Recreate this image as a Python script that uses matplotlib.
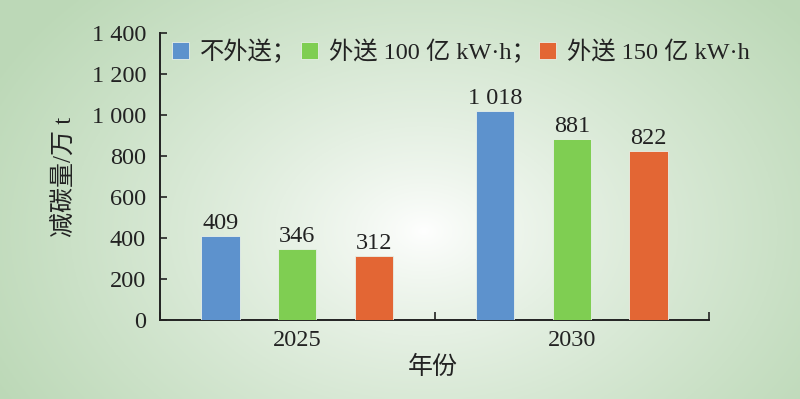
import numpy as np
import matplotlib
matplotlib.use("Agg")
import matplotlib.pyplot as plt

plt.rcParams['font.family'] = ['Liberation Serif', 'Noto Sans CJK SC', 'DejaVu Sans']

years = ['2025', '2030']
series_names = ['不外送；', '外送 100 亿 kW·h；', '外送 150 亿 kW·h']
values = {
    '不外送；': [409, 1018],
    '外送 100 亿 kW·h；': [346, 881],
    '外送 150 亿 kW·h': [312, 822],
}
value_labels = {
    '不外送；': ['409', '1 018'],
    '外送 100 亿 kW·h；': ['346', '881'],
    '外送 150 亿 kW·h': ['312', '822'],
}
colors = ['#5d92cd', '#7fce52', '#e36634']
yticks = [0, 200, 400, 600, 800, 1000, 1200, 1400]
ytick_labels = ['0', '200', '400', '600', '800', '1 000', '1 200', '1 400']

W, H = 800, 399
fig = plt.figure(figsize=(W / 100, H / 100), dpi=100)

# background radial gradient
bg = fig.add_axes([0, 0, 1, 1])
xx, yy = np.meshgrid(np.linspace(0, 1, 400), np.linspace(0, 1, 200))
cx, cy = 0.53, 0.58
d = np.sqrt(((xx - cx) / 0.60) ** 2 + ((yy - cy) / 0.85) ** 2)
t = np.clip(d, 0, 1) ** 0.8
edge = np.array([0.74, 0.85, 0.72])
center = np.array([1.0, 1.0, 1.0])
img = center[None, None, :] * (1 - t[..., None]) + edge[None, None, :] * t[..., None]
bg.imshow(img, extent=[0, 1, 0, 1], aspect='auto', origin='upper')
bg.axis('off')

ax = fig.add_axes([160 / W, 1 - 320 / H, (709 - 160) / W, (320 - 33) / H])
ax.set_facecolor('none')

x = np.arange(len(years))
width = 0.14
offsets = [-0.279, 0, 0.279]
for i, name in enumerate(series_names):
    bars = ax.bar(x + offsets[i], values[name], width, color=colors[i],
                  edgecolor='#e8f0e8', linewidth=0.6, label=name, zorder=3)
    for b, lab in zip(bars, value_labels[name]):
        ax.text(b.get_x() + b.get_width() / 2, b.get_height() + 10, lab,
                ha='center', va='bottom', fontsize=17.5, color='#222222')

ax.set_xlim(-0.5, 1.5)
ax.set_ylim(0, 1400)
ax.set_yticks(yticks)
ax.set_yticklabels(ytick_labels)
ax.set_xticks(x)
ax.set_xticklabels(years)
ax.tick_params(axis='x', length=0, labelsize=17.5, pad=7, colors='#222222')
ax.tick_params(axis='y', direction='in', length=5, width=1.2, labelsize=17.5, pad=10, colors='#222222')
ax.set_xticks([-0.5, 0.5, 1.5], minor=True)
ax.tick_params(axis='x', which='minor', direction='in', length=6, width=1.2, colors='#222222')
for s in ['top', 'right']:
    ax.spines[s].set_visible(False)
for s in ['left', 'bottom']:
    ax.spines[s].set_linewidth(1.4)
    ax.spines[s].set_color('#222222')

fig.text(65 / W, 1 - 177 / H, '减碳量/万 t', rotation=90, ha='center', va='center',
         fontsize=18, color='#222222')
fig.text(433 / W, 1 - 367 / H, '年份', ha='center', va='center', fontsize=18, color='#222222')

leg = ax.legend(loc='upper left', bbox_to_anchor=(0.0, 1.02), ncol=3, frameon=False,
                fontsize=17.5, handlelength=0.7, handleheight=0.7, handletextpad=0.45,
                columnspacing=0.15, borderaxespad=0.1)
for txt in leg.get_texts():
    txt.set_color('#222222')

fig.savefig('out.png', dpi=100)
